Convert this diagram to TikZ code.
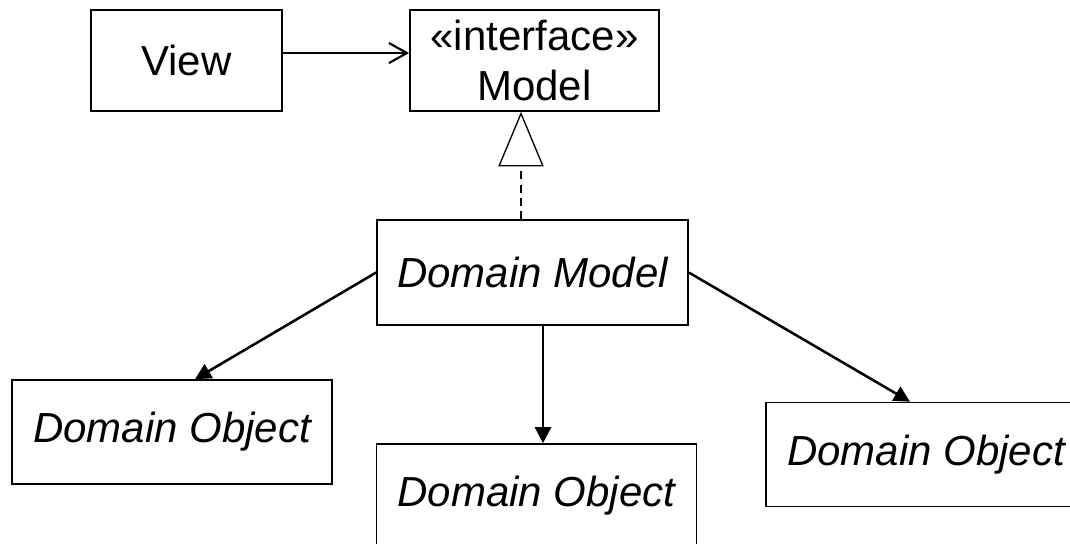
\documentclass[tikz,border=0pt]{standalone}
\usepackage{fontspec}
\setmainfont{Liberation Sans}
\usetikzlibrary{arrows.meta}

\begin{document}
\begin{tikzpicture}[x=0.75pt, y=-0.75pt,
    box/.style={draw, line width=1.2pt, inner sep=0pt, align=center,
        font=\fontsize{31.5}{37.5}\selectfont},
    objbox/.style={box, minimum width=240pt, minimum height=78pt,
        font=\fontsize{31.5}{37.5}\selectfont\itshape},
    assoc/.style={line width=1.9pt, -{Straight Barb[length=13.5pt, width=15pt, line width=1.6pt]}},
    realize/.style={line width=1pt, dash pattern=on 6pt off 4pt,
        -{Triangle[open, fill=white, length=41pt, width=34pt]}},
    navig/.style={line width=1.9pt, -{Triangle[length=12pt, width=12pt]}}]
                \useasboundingbox (0,0) rectangle (1070,543);
                \clip (0,0) rectangle (1070,543);
                \node[box, minimum width=143.25pt, minimum height=75.75pt] (view) at (186.5,60.5) {View};
                \node[box, minimum width=186.75pt, minimum height=75.75pt] (model) at (534.5,60.5) {«interface»\\Model};
                \node[objbox, minimum width=233.25pt, minimum height=78.75pt] (dmodel) at (532.5,272.5) {Domain Model};
                \node[objbox] (objl) at (172,432) {Domain Object};
                \node[objbox] (objm) at (536.5,496) {Domain Object};
                \node[objbox] (objr) at (926,454.5) {Domain Object};
                \coordinate (rz) at (521,0);
                \coordinate (mid) at (543,0);
                \draw[assoc] ([yshift=5.6pt]view.east) -- ([yshift=5.6pt]model.west);
                \draw[realize] (dmodel.north -| rz) -- (model.south -| rz);
                \draw[navig] (dmodel.west) -- ([xshift=17.25pt]objl.north);
                \draw[navig] (dmodel.south -| mid) -- (objm.north -| mid);
                \draw[navig] (dmodel.east) -- ([xshift=-12pt]objr.north);
            \end{tikzpicture}
\end{document}
